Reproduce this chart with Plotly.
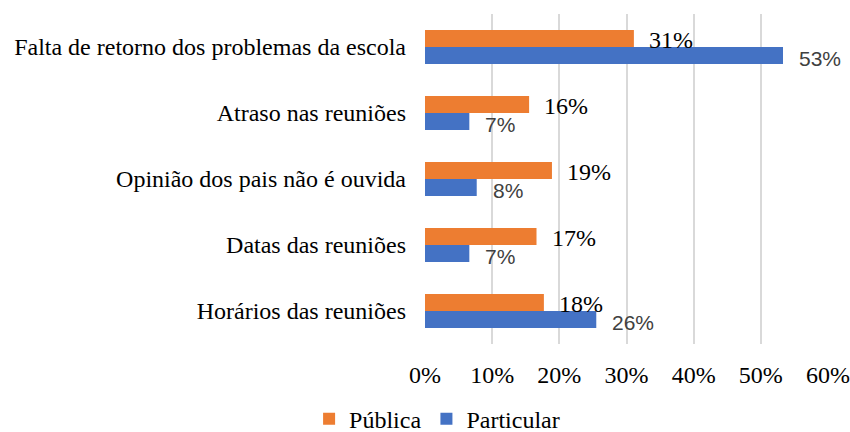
import plotly.graph_objects as go

categories = ["Falta de retorno dos problemas da escola", "Atraso nas reuniões",
              "Opinião dos pais não é ouvida", "Datas das reuniões", "Horários das reuniões"]
publica = [0.311, 0.155, 0.189, 0.166, 0.177]
particular = [0.533, 0.066, 0.077, 0.066, 0.255]
publica_labels = ["31%", "16%", "19%", "17%", "18%"]
particular_labels = ["53%", "7%", "8%", "7%", "26%"]
x_ticks = [0, 0.1, 0.2, 0.3, 0.4, 0.5, 0.6]
x_tick_labels = ["0%", "10%", "20%", "30%", "40%", "50%", "60%"]

SERIF = "Liberation Serif"
SANS = "Liberation Sans"

fig = go.Figure()
fig.add_trace(go.Bar(y=categories, x=publica, name="Pública", orientation="h",
                     marker=dict(color="#ED7D31", line=dict(width=0))))
fig.add_trace(go.Bar(y=categories, x=particular, name="Particular", orientation="h",
                     marker=dict(color="#4472C4", line=dict(width=0))))

annotations = []
for c, v, t in zip(categories, publica, publica_labels):
    annotations.append(dict(x=v, y=c, text=t, showarrow=False, xanchor="left",
                            xshift=13, yshift=7, font=dict(family=SERIF, size=24, color="black")))
for c, v, t in zip(categories, particular, particular_labels):
    annotations.append(dict(x=v, y=c, text=t, showarrow=False, xanchor="left",
                            xshift=14, yshift=-11, font=dict(family=SANS, size=21, color="#404040")))

fig.update_layout(
    width=850, height=432,
    margin=dict(l=425, r=22, t=14, b=88, autoexpand=False),
    paper_bgcolor="white", plot_bgcolor="white",
    barmode="group", bargap=0.485, bargroupgap=0,
    font=dict(family=SERIF, size=24, color="black"),
    annotations=annotations,
    legend=dict(orientation="h", x=0.03, xanchor="center", y=-0.228, yanchor="middle",
                font=dict(family=SERIF, size=24, color="black"), traceorder="normal",
                itemwidth=30),
    showlegend=True,
)
fig.update_xaxes(range=[0, 0.6], tickvals=x_ticks, ticktext=x_tick_labels,
                 showgrid=True, gridcolor="#d9d9d9", gridwidth=1.5, zeroline=False,
                 showline=False, ticks="", ticklabelstandoff=14, automargin=False,
                 tickfont=dict(family=SERIF, size=24, color="black"))
fig.update_yaxes(autorange="reversed", showgrid=False, showline=False, ticks="",
                 ticklabelstandoff=18, automargin=False,
                 tickfont=dict(family=SERIF, size=24, color="black"))

fig.write_html("out.html", config={"displayModeBar": False},
               post_script="document.body.style.margin='0';")
